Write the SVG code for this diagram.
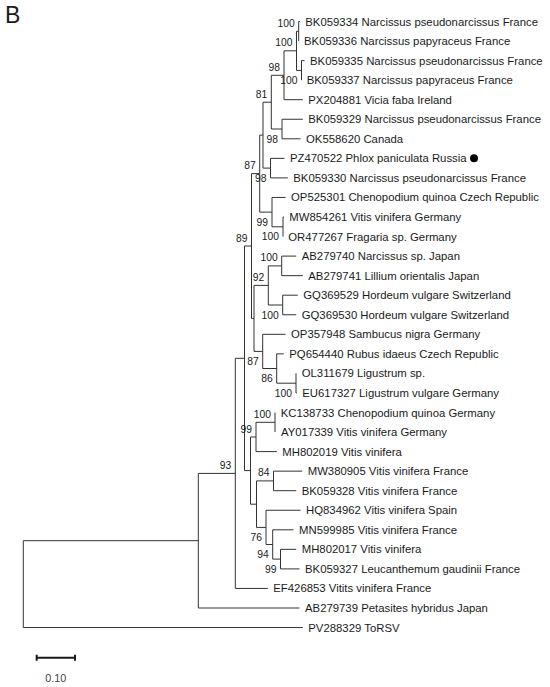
<svg xmlns="http://www.w3.org/2000/svg" width="550" height="687" viewBox="0 0 550 687">
<style>
.e{fill:none;stroke:#333;stroke-width:1}
.t{font-family:"Liberation Sans",Arial,sans-serif;font-size:11.35px;fill:#1a1a1a}
.b{font-family:"Liberation Sans",Arial,sans-serif;font-size:10.3px;fill:#1a1a1a;text-anchor:end}
</style>
<rect width="550" height="687" fill="#fff"/>
<text x="5" y="23" font-family="Liberation Sans,Arial,sans-serif" font-size="23" fill="#1a1a1a">B</text>
<g id="connectors" class="e">
<path d="M23.3 540.7V627.55M23.3 540.7H198.3M23.3 627.55H302.8"/>
<path d="M198.3 473.4V608M198.3 473.4H235.3M198.3 608H299.5"/>
<path d="M235.3 358.3V588.45M235.3 358.3H244.5M235.3 588.45H267.8"/>
<path d="M244.5 246V470.6M244.5 246H251.5M244.5 470.6H250.5"/>
<path d="M251.5 173.6V318.4M251.5 173.6H259.7M251.5 318.4H254"/>
<path d="M259.7 135.1V212.1M259.7 135.1H263M259.7 212.1H272"/>
<path d="M263 102.2V168.1M263 102.2H271.3M263 168.1H270.5"/>
<path d="M271.3 75.3V129M271.3 75.3H284M271.3 129H282"/>
<path d="M284 50.8V99.7M284 50.8H296.5M284 99.7H302.8"/>
<path d="M296.5 31.3V70.4M296.5 31.3H298.7M296.5 70.4H301.5"/>
<path d="M298.7 21.5V41.05M298.7 21.5H299.8"/>
<path d="M301.5 60.6V80.15M301.5 60.6H304.5"/>
<path d="M282 119.25V138.8M282 119.25H302.8M282 138.8H300.5"/>
<path d="M270.5 158.35V177.9M270.5 158.35H284.5M270.5 177.9H287.8"/>
<path d="M272 197.45V226.8M272 197.45H285.5M272 226.8H283"/>
<path d="M283 217V236.55M283 217H283.8"/>
<path d="M254 285.4V351.4M254 285.4H268.3M254 351.4H262.7"/>
<path d="M268.3 265.9V305M268.3 265.9H281.7M268.3 305H282.7"/>
<path d="M281.7 256.1V275.65M281.7 256.1H296.2M281.7 275.65H302.8"/>
<path d="M282.7 295.2V314.75M282.7 295.2H297.8M282.7 314.75H296.2"/>
<path d="M262.7 334.3V368.5M262.7 334.3H285.5M262.7 368.5H276.7"/>
<path d="M276.7 353.85V383.2M276.7 353.85H283.8M276.7 383.2H296"/>
<path d="M296 373.4V392.95M296 392.95H296.8"/>
<path d="M250.5 437V504.2M250.5 437H256M250.5 504.2H256.5"/>
<path d="M256 422.3V451.6M256 422.3H275M256 451.6H276.8"/>
<path d="M275 412.5V432.05"/>
<path d="M256.5 480.9V527.4M256.5 480.9H273.5M256.5 527.4H266"/>
<path d="M273.5 471.15V490.7M273.5 471.15H302.2M273.5 490.7H296.2"/>
<path d="M266 510.25V544.5M266 510.25H300.5M266 544.5H272.7"/>
<path d="M272.7 529.8V559.1M272.7 529.8H293.5M272.7 559.1H280.5"/>
<path d="M280.5 549.35V568.9M280.5 549.35H296.2M280.5 568.9H299.5"/>
</g>
<g id="bootstrap" class="b">
<text x="294.7" y="26.8">100</text>
<text x="292.5" y="46.3">100</text>
<text x="297.5" y="84">100</text>
<text x="280" y="70.8">98</text>
<text x="267.3" y="97.7">81</text>
<text x="278" y="142.6">98</text>
<text x="255.7" y="169.1">87</text>
<text x="266.5" y="181.7">98</text>
<text x="268" y="225.7">99</text>
<text x="279" y="240.4">100</text>
<text x="247.5" y="241.5">89</text>
<text x="277.7" y="261.4">100</text>
<text x="264.3" y="280.9">92</text>
<text x="278.7" y="318.6">100</text>
<text x="258.7" y="365">87</text>
<text x="272.7" y="382.1">86</text>
<text x="292" y="396.8">100</text>
<text x="271" y="417.8">100</text>
<text x="252" y="432.5">99</text>
<text x="269.5" y="476.4">84</text>
<text x="262" y="541">76</text>
<text x="268.7" y="558.1">94</text>
<text x="276.5" y="572.7">99</text>
<text x="231.3" y="468.9">93</text>
</g>
<g class="t">
<g id="BK059334"><text x="305.3" y="25.5">BK059334 Narcissus pseudonarcissus France</text></g>
<g id="BK059336"><text x="304" y="45.05">BK059336 Narcissus papyraceus France</text></g>
<g id="BK059335"><text x="310" y="64.6">BK059335 Narcissus pseudonarcissus France</text></g>
<g id="BK059337"><text x="306.7" y="84.15">BK059337 Narcissus papyraceus France</text></g>
<g id="PX204881"><text x="308.3" y="103.7">PX204881 Vicia faba Ireland</text></g>
<g id="BK059329"><text x="308.3" y="123.25">BK059329 Narcissus pseudonarcissus France</text></g>
<g id="OK558620"><text x="306" y="142.8">OK558620 Canada</text></g>
<g id="PZ470522"><text x="290" y="162.35">PZ470522 Phlox paniculata Russia</text><circle cx="474" cy="158.3" r="4" fill="#000"/></g>
<g id="BK059330"><text x="293.3" y="181.9">BK059330 Narcissus pseudonarcissus France</text></g>
<g id="OP525301"><text x="291" y="201.45">OP525301 Chenopodium quinoa Czech Republic</text></g>
<g id="MW854261"><text x="289.3" y="221">MW854261 Vitis vinifera Germany</text></g>
<g id="OR477267"><text x="288.3" y="240.55">OR477267 Fragaria sp. Germany</text></g>
<g id="AB279740"><text x="301.7" y="260.1">AB279740 Narcissus sp. Japan</text></g>
<g id="AB279741"><text x="308.3" y="279.65">AB279741 Lillium orientalis Japan</text></g>
<g id="GQ369529"><text x="303.3" y="299.2">GQ369529 Hordeum vulgare Switzerland</text></g>
<g id="GQ369530"><text x="301.7" y="318.75">GQ369530 Hordeum vulgare Switzerland</text></g>
<g id="OP357948"><text x="291" y="338.3">OP357948 Sambucus nigra Germany</text></g>
<g id="PQ654440"><text x="289.3" y="357.85">PQ654440 Rubus idaeus Czech Republic</text></g>
<g id="OL311679"><text x="301.7" y="377.4">OL311679 Ligustrum sp.</text></g>
<g id="EU617327"><text x="302.3" y="396.95">EU617327 Ligustrum vulgare Germany</text></g>
<g id="KC138733"><text x="280.7" y="416.5">KC138733 Chenopodium quinoa Germany</text></g>
<g id="AY017339"><text x="281" y="436.05">AY017339 Vitis vinifera Germany</text></g>
<g id="MH802019"><text x="282.3" y="455.6">MH802019 Vitis vinifera</text></g>
<g id="MW380905"><text x="307.7" y="475.15">MW380905 Vitis vinifera France</text></g>
<g id="BK059328"><text x="301.7" y="494.7">BK059328 Vitis vinifera France</text></g>
<g id="HQ834962"><text x="306" y="514.25">HQ834962 Vitis vinifera Spain</text></g>
<g id="MN599985"><text x="299" y="533.8">MN599985 Vitis vinifera France</text></g>
<g id="MH802017"><text x="301.7" y="553.35">MH802017 Vitis vinifera</text></g>
<g id="BK059327"><text x="305" y="572.9">BK059327 Leucanthemum gaudinii France</text></g>
<g id="EF426853"><text x="273.3" y="592.45">EF426853 Vitits vinifera France</text></g>
<g id="AB279739"><text x="305" y="612">AB279739 Petasites hybridus Japan</text></g>
<g id="PV288329"><text x="308.3" y="631.55">PV288329 ToRSV</text></g>
</g>
<g id="scalebar">
<path d="M36.7 657.7H75M36.7 654.7V660.7M75 654.7V660.7" fill="none" stroke="#1a1a1a" stroke-width="2"/>
<text x="55.8" y="681.5" font-family="Liberation Sans,Arial,sans-serif" font-size="10.8" fill="#444" text-anchor="middle">0.10</text>
</g>
</svg>
